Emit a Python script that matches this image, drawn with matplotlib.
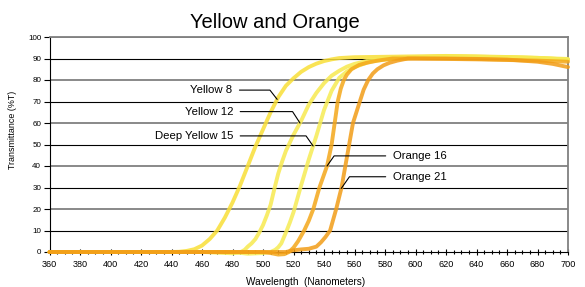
import numpy as np
import matplotlib
matplotlib.use("Agg")
import matplotlib.pyplot as plt
from matplotlib.ticker import MultipleLocator

plt.rcParams['font.family'] = ['Liberation Sans', 'DejaVu Sans']

title = "Yellow and Orange"
xlabel = "Wavelength  (Nanometers)"
ylabel = "Transmittance (%T)"

names = ["Yellow 8", "Yellow 12", "Deep Yellow 15", "Orange 16", "Orange 21"]
colors = ["#F9DF37", "#F7E94F", "#F6EB54", "#F4A71A", "#F29D17"]

wl_y8 = [360, 440, 445, 450, 455, 460, 465, 470, 475, 480, 485, 490, 495, 500, 505, 510,
         515, 520, 525, 530, 535, 540, 545, 550, 560, 580, 600, 620, 640, 660, 680, 700]
t_y8 = [0, 0, 0.1, 0.5, 1.3, 3, 6, 10, 16, 23, 31, 40, 49, 57, 65, 72,
        77.3, 80.8, 83.8, 86, 87.6, 88.8, 89.6, 90.2, 90.6, 90.8, 91, 91.2, 91, 90.7, 90.3, 89.5]

wl_y12 = [360, 460, 470, 480, 485, 488, 490, 492.5, 495, 497.5, 500, 502.5, 505, 507.5, 510,
          512.5, 515, 520, 525, 530, 535, 540, 545, 550, 555, 560, 570, 580, 600, 620, 640,
          660, 680, 700]
t_y12 = [0, 0, -0.3, -0.6, -0.2, 1, 2.5, 4, 6, 9, 12.5, 17, 22, 29.5, 36.5,
         42, 47, 54.5, 61, 68.5, 74, 78.5, 82, 84.3, 86.2, 87.5, 89.2, 90, 90.6, 91, 90.8,
         90.6, 90.2, 89.5]

wl_dy15 = [360, 480, 490, 500, 505, 508, 510, 512, 515, 517.5, 520, 525, 530, 535, 540,
           545, 550, 555, 560, 570, 580, 600, 620, 640, 660, 680, 700]
t_dy15 = [0, 0, -0.8, -0.5, 0, 1, 2.2, 4, 9, 13.5, 18.5, 31, 43, 54, 66,
          75, 81, 84, 86, 88.5, 89.5, 90.3, 91, 90.8, 90.6, 90.3, 89.8]

wl_o16 = [360, 500, 505, 510, 514, 517, 520, 523, 527, 530, 533, 537, 542, 545, 547,
          549, 551, 553, 555, 558, 563, 568, 575, 585, 600, 620, 640, 660, 680, 700]
t_o16 = [0, 0, -0.5, -1.2, -1, 0, 2, 5, 10, 14.5, 20, 30, 40, 50, 60,
         70, 76, 80, 82.5, 85, 87, 88, 89, 90, 90, 89.8, 89.6, 89.3, 89, 88.5]

wl_o21 = [360, 515, 520, 525, 530, 535, 538, 541, 544, 548, 551.5, 554, 556.5, 559, 563.5,
          566, 569, 572, 575, 579, 583, 588, 595, 620, 640, 660, 680, 690, 700]
t_o21 = [0, 0, 0.8, 1.2, 1.5, 2.5, 4.5, 7, 10, 20, 30, 40, 50, 60, 70,
         75.5, 80, 83, 85, 86.8, 88, 89, 90, 90, 89.8, 89.5, 88.5, 87.5, 86]

series = [(wl_y8, t_y8), (wl_y12, t_y12), (wl_dy15, t_dy15), (wl_o16, t_o16), (wl_o21, t_o21)]

# label placement: (text x, text y, pointer level %, side, leader angle)
label_pos = [(480, 75.3, 71, 'right', -52),
             (480.5, 65.3, 60, 'right', -57),
             (480.5, 54, 49.3, 'right', -55),
             (585, 44.7, 40, 'left', 55),
             (585, 35, 29.6, 'left', 55)]

fig = plt.figure(figsize=(5.85, 2.87), dpi=100)
ax = fig.add_axes([49.5 / 585, 35 / 287, 518.5 / 585, 215 / 287])

ax.set_xlim(360, 700)
ax.set_ylim(0, 100)

# grid lines alternate grey / black
for lv in range(10, 101, 10):
    if lv % 20 == 0:
        ax.axhline(lv, color='#808080', lw=1.3, zorder=1)
    else:
        ax.axhline(lv, color='black', lw=0.8, zorder=1)

for (wl, t), c in zip(series, colors):
    ax.plot(wl, t, color=c, lw=2.8, alpha=0.85, solid_capstyle='round',
            solid_joinstyle='round', clip_on=False, zorder=3)

for (wl, t), name, (tx, ty, lvl, side, ang) in zip(series, names, label_pos):
    wl = np.asarray(wl, float)
    t = np.asarray(t, float)
    ih = int(np.argmax(t >= 50))
    i0 = int(np.argmin(t[:ih]))
    i1 = int(np.argmax(t))
    px = float(np.interp(lvl, t[i0:i1 + 1], wl[i0:i1 + 1]))
    ax.annotate(name, xy=(px, lvl), xytext=(tx, ty), ha=side, va='center',
                fontsize=8.2, color='black', zorder=5,
                arrowprops=dict(arrowstyle='-', color='black', lw=0.8,
                                shrinkA=3, shrinkB=0,
                                connectionstyle=f"angle,angleA=0,angleB={ang},rad=0"))

for s in ['top', 'right']:
    ax.spines[s].set_color('#808080')
    ax.spines[s].set_linewidth(1.3)
for s in ['left', 'bottom']:
    ax.spines[s].set_color('black')
    ax.spines[s].set_linewidth(0.8)

ax.set_yticks(range(0, 101, 10))
ax.set_xticks(range(360, 701, 20))
ax.xaxis.set_minor_locator(MultipleLocator(5))
ax.tick_params(axis='y', which='major', length=4, width=0.8, direction='out', pad=2, labelsize=5.8)
ax.tick_params(axis='x', which='major', length=4, width=0.8, direction='inout', pad=4, labelsize=6.6)
ax.tick_params(axis='x', which='minor', length=2.5, width=0.8, direction='inout')

ax.set_xlabel(xlabel, fontsize=7.2)
ax.xaxis.set_label_coords(0.493, -0.115)
ax.set_ylabel(ylabel, fontsize=6.4)
ax.yaxis.set_label_coords(-0.062, 0.567)

fig.text(274.7 / 585, (287 - 28.3) / 287, title, ha='center', va='baseline', fontsize=14.5)

fig.savefig("out.png", dpi=100)
